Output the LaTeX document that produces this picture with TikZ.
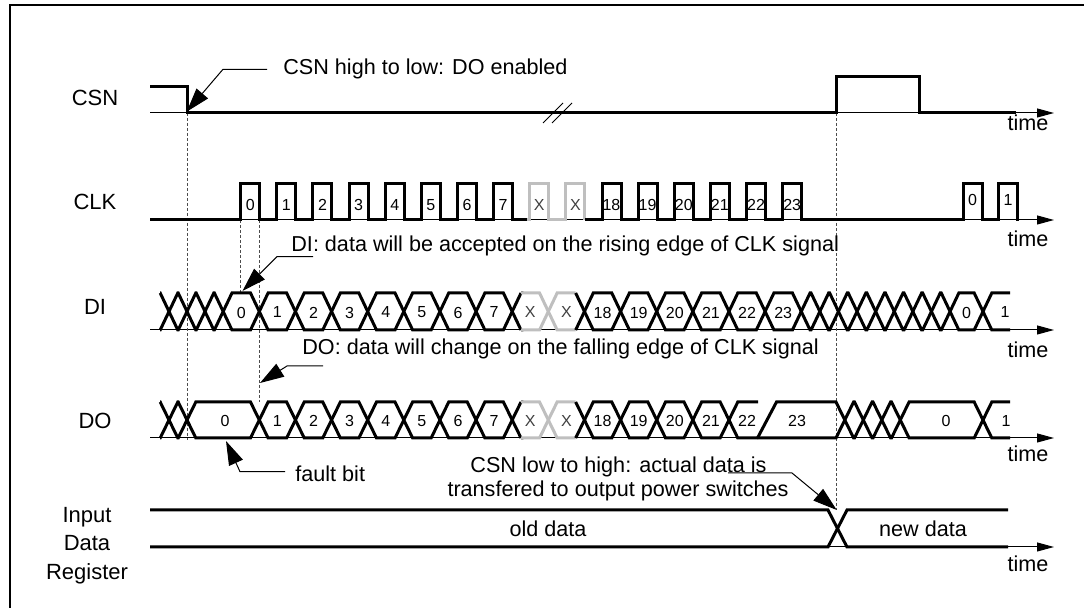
\documentclass[tikz,border=0pt]{standalone}
\usepackage{fontspec}
\setmainfont{Liberation Sans}
\usetikzlibrary{arrows.meta}
\tikzset{
 sig/.style={line width=1.5pt, line join=miter, miter limit=2},
 sigg/.style={sig, draw=black!25},
 axis/.style={line width=0.5pt, -{Triangle[length=8.5pt,width=4.5pt]}},
 lead/.style={line width=0.5pt, -{Triangle[length=12pt,width=7.5pt]}},
 dsh/.style={line width=0.4pt, draw=black!70, dash pattern=on 1.5pt off 1pt},
 lab/.style={font=\fontsize{11pt}{13pt}\selectfont, inner sep=0pt, anchor=base},
 ann/.style={font=\fontsize{10.8pt}{13pt}\selectfont, inner sep=0pt},
 dig/.style={font=\fontsize{8pt}{9pt}\selectfont, inner sep=0pt},
 frame/.style={line width=1pt},
 brk/.style={line width=0.5pt},
}
% bus: style, ytop, ybot, half width, xstart, crossing list, xend
\newcommand\busdraw[7]{%
 \coordinate (bE) at (#7,0);
 \draw[#1] (#5,#2) \foreach \c [count=\n, evaluate=\n as \ya using #3+(#2-#3)*(\n-2*floor(\n/2)), evaluate=\n as \yb using #2+(#3-#2)*(\n-2*floor(\n/2))] in {#6} { -- (\c-#4,\ya) -- (\c+#4,\yb) coordinate (bA) } -- (bA -| bE);
 \draw[#1] (#5,#3) \foreach \c [count=\n, evaluate=\n as \ya using #2+(#3-#2)*(\n-2*floor(\n/2)), evaluate=\n as \yb using #3+(#2-#3)*(\n-2*floor(\n/2))] in {#6} { -- (\c-#4,\ya) -- (\c+#4,\yb) coordinate (bB) } -- (bB -| bE);
}
\begin{document}
\begin{tikzpicture}[x=0.5pt,y=-0.5pt]
\useasboundingbox (0,0) rectangle (1084,608);
% frame
\draw[frame] (10,640) -- (10,5) -- (1100,5);

% ---------- axes ----------
\draw[axis] (150,113) -- (1054,113);
\draw[axis] (150,220) -- (1054,220);
\draw[axis] (150,330) -- (1054,330);
\draw[axis] (150,438) -- (1054,438);
\draw[axis] (150,547) -- (1054,547);

% ---------- dashed guides ----------
\draw[dsh] (187,113) -- (187,440);
\draw[dsh] (240.7,220) -- (240.7,293);
\draw[dsh] (259.7,220) -- (259.7,402);
\draw[dsh] (836.5,113) -- (836.5,510);

% ---------- CSN ----------
\draw[sig] (150,86.5) -- (187,86.5) -- (187,113) -- (836,113) -- (836,77) -- (919,77) -- (919,113) -- (1016,113);
\draw[brk] (543,123) -- (563,103);
\draw[brk] (552,123) -- (572,103);

% ---------- CLK ----------
\draw[sig] (150,220) \foreach \p in {0,...,7} { -- ({240.7+36.13*\p},220) -- ++(0,-36) -- ++(19,0) -- ++(0,36) } -- (527,220);
\draw[sigg] (527,220) \foreach \p in {8,9} { -- ({240.7+36.13*\p},220) -- ++(0,-36) -- ++(19,0) -- ++(0,36) };
\draw[sig] (584.8,220) \foreach \p in {10,...,15} { -- ({240.7+36.13*\p},220) -- ++(0,-36) -- ++(19,0) -- ++(0,36) } -- (963,220) -- ++(0,-36) -- ++(19,0) -- ++(0,36) -- (998,220) -- ++(0,-36) -- ++(19.5,0) -- ++(0,36) -- (1019,220);
\foreach \p/\t in {0/0,1/1,2/2,3/3,4/4,5/5,6/6,7/7,10/18,11/19,12/20,13/21,14/22,15/23}
  \node[dig] (clk\p) at ({250.2+36.13*\p},205) {\t};
\foreach \p in {8,9}
  \node[dig, text=black!75] (clkx\p) at ({250.2+36.13*\p},205) {X};
\node[dig] (clkr0) at (972.5,200) {0};
\node[dig] (clkr1) at (1008,200) {1};

% ---------- DI ----------
\busdraw{sig}{293}{330}{8.8}{160}{169,187,205,223.17,259.3,295.43,331.56,367.69,403.82,439.95,476.08,512.21}{521.01}
\busdraw{sigg}{293}{330}{8.8}{521.01}{548.34}{575.67}
\busdraw{sig}{293}{330}{8.8}{575.67}{584.47,620.6,656.73,692.86,728.99,765.12,801.25,819.85,838.45,857.05,875.65,894.25,912.85,931.45,950.05,983}{1010}
\foreach \p/\t in {0/0,1/1,2/2,3/3,4/4,5/5,6/6,7/7,10/18,11/19,12/20,13/21,14/22,15/23}
  \node[dig] (di\p) at ({241.24+36.13*\p},312.5) {\t};
\foreach \p in {8,9}
  \node[dig, text=black!75] (dix\p) at ({241.24+36.13*\p},312.5) {X};
\node[dig] (dir0) at (966.5,312.5) {0};
\node[dig] (dir1) at (1005,312.5) {1};

% ---------- DO ----------
\busdraw{sig}{402}{438}{8.8}{160}{169,187,259.3,295.43,331.56,367.69,403.82,439.95,476.08,512.21}{521.01}
\busdraw{sigg}{402}{438}{8.8}{521.01}{548.34}{575.67}
\busdraw{sig}{402}{438}{8.8}{575.67}{584.47,620.6,656.73,692.86,728.99}{758}
\draw[sig] (757.5,438) -- (776.5,402) -- (836,402) -- (853.6,438) -- (854.5,438) -- (872.1,402) -- (873,402) -- (890.6,438) -- (891.5,438) -- (909.1,402) -- (974.2,402) -- (991.8,438) -- (1010,438);
\draw[sig] (757.5,438) -- (836,438) -- (853.6,402) -- (854.5,402) -- (872.1,438) -- (873,438) -- (890.6,402) -- (891.5,402) -- (909.1,438) -- (974.2,438) -- (991.8,402) -- (1010,402);
\node[dig] (do0) at (225,421) {0};
\foreach \p/\t in {1/1,2/2,3/3,4/4,5/5,6/6,7/7,10/18,11/19,12/20,13/21,14/22}
  \node[dig] (do\p) at ({241.24+36.13*\p},421) {\t};
\foreach \p in {8,9}
  \node[dig, text=black!75] (dox\p) at ({241.24+36.13*\p},421) {X};
\node[dig] (do23) at (797,421) {23};
\node[dig] (dor0) at (946,421) {0};
\node[dig] (dor1) at (1006,421) {1};

% ---------- Input Data Register ----------
\busdraw{sig}{510}{547}{9.5}{150}{837.5}{1008}
\node[ann, anchor=base] (old) at (548,536.7) {old data};
\node[ann, anchor=base] (new) at (923,536.7) {new data};

% ---------- signal labels ----------
\node[lab] (lcsn) at (95,106) {CSN};
\node[lab] (lclk) at (95,210) {CLK};
\node[lab] (ldi) at (95,315) {DI};
\node[lab] (ldo) at (95,428.3) {DO};
\node[lab] (lin) at (87,522.7) {Input};
\node[lab] (ldata) at (87,551) {Data};
\node[lab] (lreg) at (87,579.3) {Register};

% ---------- time labels ----------
\node[ann, anchor=base] (t1) at (1028,131) {time};
\node[ann, anchor=base] (t2) at (1028,246.7) {time};
\node[ann, anchor=base] (t3) at (1028,358) {time};
\node[ann, anchor=base] (t4) at (1028,461.7) {time};
\node[ann, anchor=base] (t5) at (1028,571.7) {time};

% ---------- annotations ----------
\node[ann, anchor=base west] (csnnote) at (283,75) {CSN high to low: DO enabled};
\coordinate (csnA) at (267,69.3);
\coordinate (csnB) at (223,69.3);
\coordinate (csnT) at (186.7,111.7);
\draw[lead] (csnA) -- (csnB) -- (csnT);

\node[ann, anchor=base west] (dinote) at (291,251.7) {DI: data will be accepted on the rising edge of CLK signal};
\coordinate (diA) at (313,256.7);
\coordinate (diB) at (277,256.7);
\coordinate (diT) at (242.5,291);
\draw[lead] (diA) -- (diB) -- (diT);

\node[ann, anchor=base west] (donote) at (302,355) {DO: data will change on the falling edge of CLK signal};
\coordinate (doA) at (323,366);
\coordinate (doB) at (287,366);
\coordinate (doT) at (260,383);
\draw[lead] (doA) -- (doB) -- (doT);

\node[ann, anchor=base west] (fault) at (295,481.7) {fault bit};
\coordinate (fA) at (285,471.7);
\coordinate (fB) at (240,471.7);
\coordinate (fT) at (226,441);
\draw[lead] (fA) -- (fB) -- (fT);

\node[ann, anchor=base] (hl1) at (618.5,473) {CSN low to high: actual data is};
\node[ann, anchor=base] (hl2) at (618,497) {transfered to output power switches};
\coordinate (hA) at (728,473);
\coordinate (hB) at (792,473);
\coordinate (hT) at (836.7,510);
\draw[lead] (hA) -- (hB) -- (hT);
\end{tikzpicture}
\end{document}
